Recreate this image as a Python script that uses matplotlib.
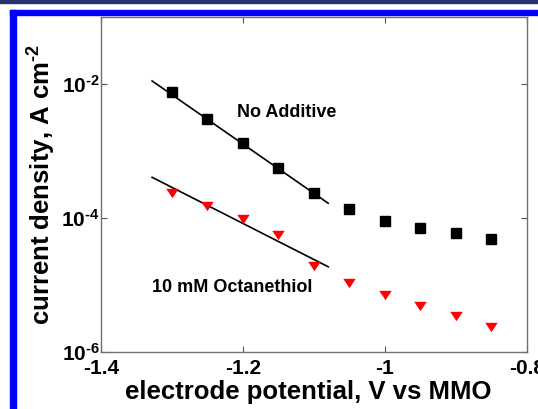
import matplotlib
matplotlib.use("Agg")
import matplotlib.pyplot as plt
from matplotlib.patches import Rectangle
from matplotlib.ticker import NullLocator

plt.rcParams['font.family'] = ['Liberation Sans', 'DejaVu Sans']
plt.rcParams['axes.unicode_minus'] = False
plt.rcParams['mathtext.fontset'] = 'custom'
plt.rcParams['mathtext.rm'] = 'Liberation Sans:bold'
plt.rcParams['mathtext.bf'] = 'Liberation Sans:bold'
plt.rcParams['mathtext.it'] = 'Liberation Sans:bold'
plt.rcParams['mathtext.default'] = 'bf'

# Data
potential = [-1.30, -1.25, -1.20, -1.15, -1.10, -1.05, -1.00, -0.95, -0.90, -0.85]
no_additive = [7.6e-3, 3.0e-3, 1.3e-3, 5.5e-4, 2.4e-4, 1.34e-4, 9.1e-5, 7.2e-5, 5.9e-5, 4.9e-5]
octanethiol = [2.4e-4, 1.5e-4, 9.8e-5, 5.5e-5, 1.9e-5, 1.08e-5, 7.1e-6, 4.9e-6, 3.5e-6, 2.4e-6]
fit_x = [-1.328, -1.080]
fit_no_additive = [1.11e-2, 1.66e-4]
fit_octanethiol = [4.05e-4, 1.87e-5]
xticks = [-1.4, -1.2, -1.0, -0.8]
xticklabels = ['-1.4', '-1.2', '-1', '-0.8']
yticks = [1e-6, 1e-4, 1e-2]
yticklabels = [r'10$^{\text{-6}}$', r'10$^{\text{-4}}$', r'10$^{\text{-2}}$']

fig = plt.figure(figsize=(5.38, 4.09), dpi=100)
# decorative frame
fig.patches.append(Rectangle((0, 1 - 3/409), 1, 3/409, transform=fig.transFigure,
                             color='#26336e', zorder=0))
fig.patches.append(Rectangle((10/538, 1 - 15/409), 1, 5/409, transform=fig.transFigure,
                             color='#0000ff', zorder=0))
fig.patches.append(Rectangle((10/538, 0), 6/538, 1 - 10/409, transform=fig.transFigure,
                             color='#0000ff', zorder=0))

ax = fig.add_axes([101/538, 57/409, 426/538, 335/409])
ax.set_yscale('log')
ax.set_xlim(-1.4, -0.8)
ax.set_ylim(1e-6, 1e-1)

ax.plot(fit_x, fit_no_additive, color='black', lw=1.2, zorder=2)
ax.plot(fit_x, fit_octanethiol, color='black', lw=1.2, zorder=2)
ax.plot(potential, no_additive, linestyle='none', marker='s', markersize=7,
        color='black', zorder=3)
tri = [(-1, 0.75), (1, 0.75), (0, -0.75)]
ax.plot(potential, octanethiol, linestyle='none', marker=tri, markersize=9,
        color='#ff0000', markeredgewidth=0, zorder=3)

ax.text(-1.2085, 3.8e-3, 'No Additive', fontsize=13, fontweight='bold',
        va='center', ha='left')
ax.text(-1.328, 9.1e-6, '10 mM Octanethiol', fontsize=13, fontweight='bold',
        va='center', ha='left')

ax.set_xticks(xticks)
ax.set_xticklabels(xticklabels)
ax.set_yticks(yticks)
ax.set_yticklabels(yticklabels)
ax.yaxis.set_minor_locator(NullLocator())
ax.tick_params(direction='in', top=True, right=True, length=4, width=0.8,
               color='#555555', labelsize=15)
ax.tick_params(axis='x', pad=5)
ax.tick_params(axis='y', pad=1)
for lab in ax.get_xticklabels() + ax.get_yticklabels():
    lab.set_fontweight('bold')
for s in ax.spines.values():
    s.set_color('#707070')
    s.set_linewidth(1.0)

ax.set_xlabel('electrode potential, V vs MMO', fontsize=18.5, fontweight='bold', labelpad=0)
ax.xaxis.set_label_coords(0.486, -0.085)
ax.set_ylabel(r'current density, A cm$^{\text{-2}}$', fontsize=18.5, fontweight='bold', labelpad=2)

fig.savefig('out.png', dpi=100)
